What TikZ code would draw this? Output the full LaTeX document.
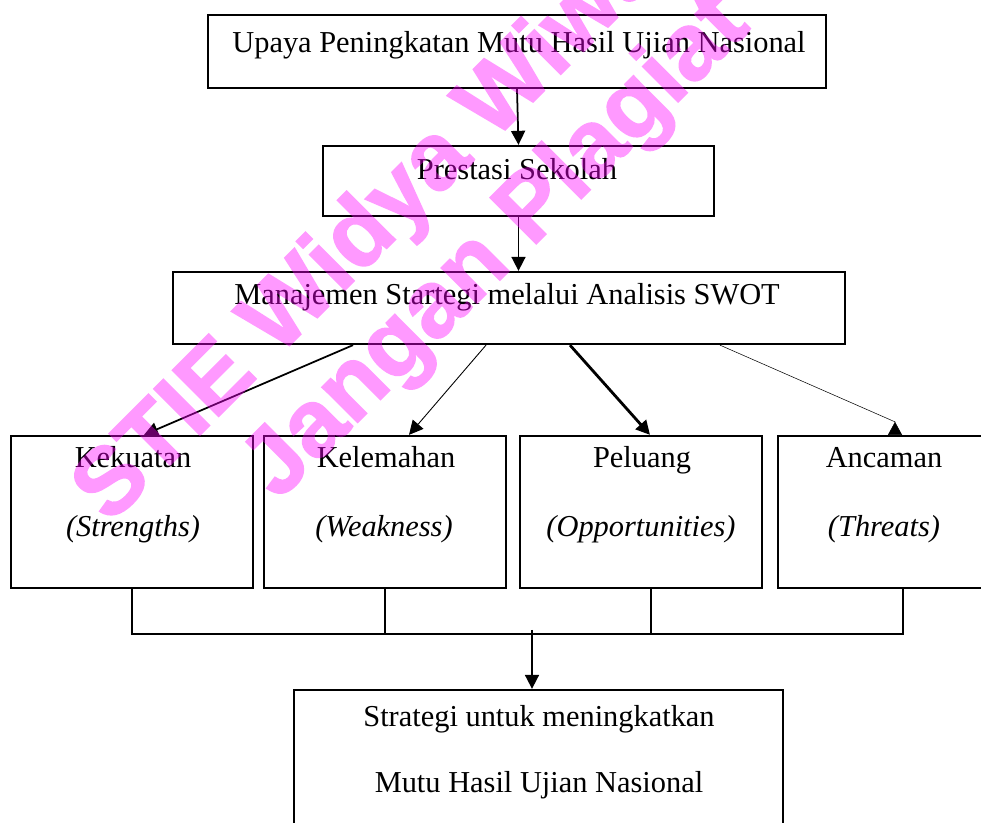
\documentclass[tikz,border=0pt]{standalone}
\usepackage{fontspec}
\setmainfont{Liberation Serif}
\newfontfamily\wmfont[FakeBold=1.5]{Liberation Sans Bold}
\usetikzlibrary{arrows.meta,calc}
\definecolor{wmpink}{RGB}{255,0,255}

\begin{document}
\begin{tikzpicture}[
    box/.style={draw, line width=1.3pt, inner sep=0pt},
    lbl/.style={font=\fontsize{17.3}{20}\selectfont, inner sep=0pt, anchor=base},
    arr/.style={line width=1pt, -{Triangle[length=0.28cm,width=0.28cm]}},
    stub/.style={line width=1pt},
    bar/.style={line width=1.6pt},
    wm/.style={font=\wmfont\fontsize{54}{60}\selectfont, text=wmpink, inner sep=0pt, anchor=base, rotate=45}
]
    \useasboundingbox (0,0) rectangle (19.62,-16.46);
    \clip (0,0) rectangle (19.62,-16.46);

    % boxes
    \node[box, minimum width=12.36cm, minimum height=1.46cm] (upaya) at (10.34,-1.03) {};
    \node[box, minimum width=7.82cm, minimum height=1.40cm] (prestasi) at (10.37,-3.62) {};
    \node[box, minimum width=13.44cm, minimum height=1.44cm] (swot) at (10.18,-6.16) {};
    \node[box, minimum width=4.84cm, minimum height=3.04cm] (kekuatan) at (2.64,-10.24) {};
    \node[box, minimum width=4.84cm, minimum height=3.04cm] (kelemahan) at (7.70,-10.24) {};
    \node[box, minimum width=4.84cm, minimum height=3.04cm] (peluang) at (12.82,-10.24) {};
    \node[box, minimum width=5.00cm, minimum height=3.04cm] (ancaman) at (18.06,-10.24) {};
    \node[box, minimum width=9.78cm, minimum height=3.00cm] (strategi) at (10.77,-15.30) {};

    % texts
    \node[lbl] (tUpaya) at (10.38,-1.06) {Upaya Peningkatan Mutu Hasil Ujian Nasional};
    \node[lbl] (tPrestasi) at (10.34,-3.60) {Prestasi Sekolah};
    \node[lbl] (tSwot) at (10.14,-6.10) {Manajemen Startegi melalui Analisis SWOT};
    \node[lbl] (tKek) at (2.66,-9.36) {Kekuatan};
    \node[lbl] (tKel) at (7.72,-9.36) {Kelemahan};
    \node[lbl] (tPel) at (12.84,-9.36) {Peluang};
    \node[lbl] (tAnc) at (17.68,-9.36) {Ancaman};
    \node[lbl] (sKek) at (2.66,-10.74) {\textit{(Strengths)}};
    \node[lbl] (sKel) at (7.68,-10.74) {\textit{(Weakness)}};
    \node[lbl] (sPel) at (12.82,-10.74) {\textit{(Opportunities)}};
    \node[lbl] (sAnc) at (17.68,-10.74) {\textit{(Threats)}};
    \node[lbl] (tStr1) at (10.78,-14.54) {Strategi untuk meningkatkan};
    \node[lbl] (tStr2) at (10.78,-15.84) {Mutu Hasil Ujian Nasional};

    % arrows down the middle
    \draw[arr] (upaya.south) -- (prestasi.north);
    \draw[arr] (prestasi.south) -- (prestasi.south |- swot.north);

    % swot to the four boxes
    \draw[arr] ([xshift=-3.12cm]swot.south) -- ([xshift=0.24cm]kekuatan.north);
    \draw[arr, line width=0.5pt] ([xshift=-0.46cm]swot.south) -- ([xshift=0.48cm]kelemahan.north);
    \draw[arr, line width=1.6pt] ([xshift=1.22cm]swot.south) -- ([xshift=0.18cm]peluang.north);
    \draw[line width=0.3pt, -{Triangle[reversed,length=0.26cm,width=0.28cm]}] ([xshift=4.22cm]swot.south)
        -- ([xshift=-0.16cm,yshift=0.26cm]ancaman.north) -- ([xshift=-0.16cm]ancaman.north);

    % join below
    \coordinate (jn) at (10.64,-12.68);
    \foreach \n/\s in {kekuatan/0, kelemahan/0, peluang/0.2, ancaman/0}
        \draw[stub] ([xshift=\s cm]\n.south) -- ++(0,-0.92);
    \draw[bar] (kekuatan.south |- jn) -- (ancaman.south |- jn);
    \draw[arr] ([yshift=0.08cm]jn) -- (jn |- strategi.north);

    % watermark
    \begin{scope}[transparency group, opacity=0.4]
        \node[wm] (wm1) at (8.52,-4.18) {STIE Widya Wiwaha};
        \node[wm] (wm2) at (10.30,-5.30) {Jangan Plagiat};
    \end{scope}
\end{tikzpicture}
\end{document}
